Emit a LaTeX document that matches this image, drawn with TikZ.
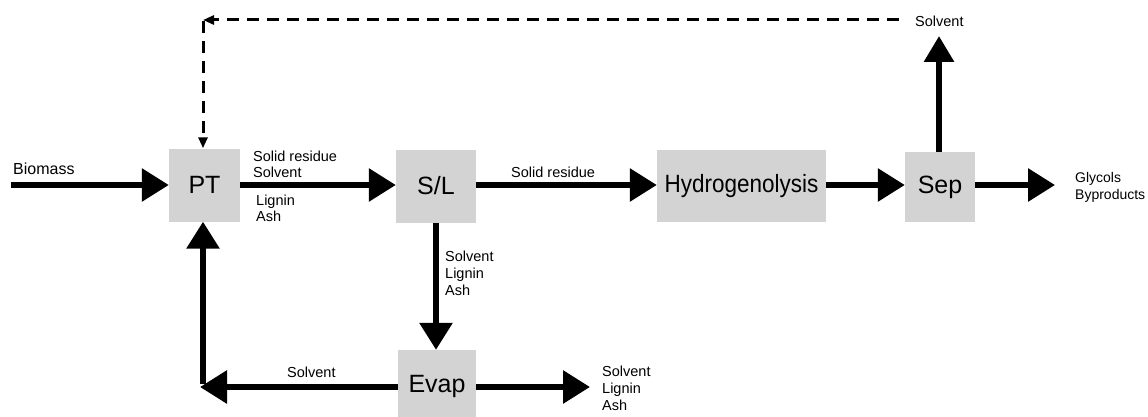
\documentclass[tikz,border=0pt]{standalone}
\usepackage{fontspec}
\setmainfont{Liberation Sans}
\usetikzlibrary{arrows.meta}
\definecolor{boxgray}{RGB}{211,211,211}
\tikzset{
  unit/.style={fill=boxgray, draw=none, inner sep=0pt, font=\fontsize{25}{30}\selectfont},
  flow/.style={line width=6pt, -{Triangle[length=27pt,width=32pt]}},
  recycle/.style={line width=3pt, dash pattern=on 12pt off 8pt, -{Triangle[length=11pt,width=9pt]}},
  lbl/.style={inner sep=0pt, anchor=north west, align=left, font=\fontsize{14.5}{17}\selectfont},
}
\begin{document}
\begin{tikzpicture}[x=1pt, y=-1pt]
\useasboundingbox (0,0) rectangle (1148,417);
% units
\node[unit, minimum width=71pt, minimum height=73pt] (pt) at (204.5,185) {PT};
\node[unit, minimum width=80pt, minimum height=73pt] (sl) at (436,186) {S/L};
\node[unit, minimum width=169pt, minimum height=72pt] (hy) at (741.5,186) {\scalebox{0.9}[1]{Hydrogenolysis}};
\node[unit, minimum width=70pt, minimum height=70pt] (sep) at (940,187) {Sep};
\node[unit, minimum width=78pt, minimum height=72pt] (ev) at (437,386) {Evap};
% free ends
\coordinate (bin) at (11,185);
\coordinate (gout) at (1055,185);
\coordinate (sout) at (939,36);
\coordinate (eout) at (590,387);
\coordinate (corner) at (203,387);
\coordinate (dstart) at (899,20);
\coordinate (dcorner) at (203,20);
% main flows
\draw[flow] (bin) -- (pt.west |- bin);
\draw[flow] (pt.east |- bin) -- (sl.west |- bin);
\draw[flow] (sl.east |- bin) -- (hy.west |- bin);
\draw[flow] (hy.east |- bin) -- (sep.west |- bin);
\draw[flow] (sep.east |- bin) -- (gout);
\draw[flow, -{Triangle[length=26pt,width=29pt]}] (sout |- sep.north) -- (sout);
\draw[flow] (sl.south) -- (sl.south |- ev.north);
\draw[flow] (ev.east |- eout) -- (eout);
\draw[flow, shorten >=-3pt] (ev.west |- corner) -- (corner);
\draw[flow] ([yshift=3pt]corner) -- (corner |- pt.south);
% dashed recycle
\draw[recycle] (dstart) -- (dcorner);
\draw[recycle] ([yshift=-1.5pt]dcorner) -- (dcorner |- pt.north);
% labels
\node[lbl, font=\fontsize{16}{18}\selectfont] (l1) at (13,162.5) {Biomass};
\node[lbl, font=\fontsize{14.5}{16}\selectfont] (l2) at (253,151) {Solid residue\\Solvent};
\node[lbl, font=\fontsize{14.5}{16}\selectfont] (l3) at (256,194.5) {Lignin\\Ash};
\node[lbl] (l4) at (511,167) {Solid residue};
\node[lbl] (l5) at (915,16) {Solvent};
\node[lbl, font=\fontsize{14}{17}\selectfont] (l6) at (1075,172.5) {Glycols\\Byproducts};
\node[lbl] (l7) at (445,250.5) {Solvent\\Lignin\\Ash};
\node[lbl] (l8) at (287,367) {Solvent};
\node[lbl, font=\fontsize{14.5}{17}\selectfont] (l9) at (602,366) {Solvent\\Lignin\\Ash};
\end{tikzpicture}
\end{document}
